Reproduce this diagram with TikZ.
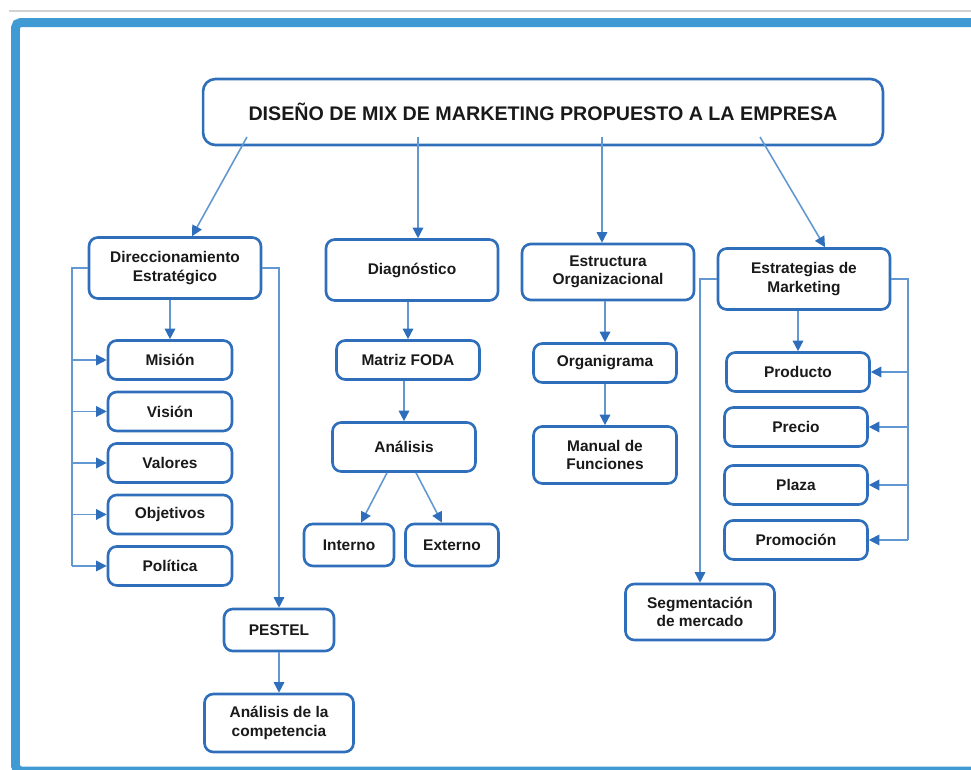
\documentclass[tikz,border=0pt]{standalone}
\usepackage{fontspec}
\setmainfont{Liberation Sans}
\usetikzlibrary{arrows.meta,positioning,calc}
\definecolor{boxblue}{RGB}{47,110,186}
\definecolor{lineblue}{RGB}{98,152,210}
\definecolor{frameblue}{RGB}{64,154,212}

\begin{document}
\begin{tikzpicture}[x=0.02cm, y=-0.02cm, node distance=1cm, font=\bfseries\fontsize{8.8}{10.5}\selectfont]
\tikzstyle{block} = [rectangle, draw=boxblue, line width=1.5pt, text=black!90, align=center, rounded corners=5pt, inner sep=2pt]
\tikzstyle{headbox} = [block, minimum width=34.4mm, minimum height=12.2mm]
\tikzstyle{leaf} = [block, minimum width=24.8mm, minimum height=7.8mm]
\tikzstyle{subbox} = [block, minimum width=28.6mm, minimum height=7.8mm]
\tikzstyle{line} = [draw=lineblue, line width=0.9pt, -{Triangle[length=6pt, width=6pt, color=boxblue]}]
\tikzstyle{wire} = [draw=lineblue, line width=0.9pt]

\useasboundingbox (0,0) rectangle (971,769);
\begin{scope}
\clip (0,0) rectangle (971,769);
\draw [gray!35, line width=0.6pt] (9,11) -- (971,11);
\draw [frameblue, line width=1.8mm, rounded corners=3pt] (15.5,22.5) rectangle (990,771);
\end{scope}

\node [block, minimum width=136mm, minimum height=13.2mm, rounded corners=7pt, font=\bfseries\fontsize{11.2}{13}\selectfont] (title) at (543,112) {DISEÑO DE MIX DE MARKETING PROPUESTO A LA EMPRESA};

\node [headbox] (dir) at (175,268) {Direccionamiento\\Estratégico};
\node [headbox] (diag) at (412,270) {Diagnóstico};
\node [headbox, minimum height=11.2mm] (estr) at (608,272) {Estructura\\Organizacional};
\node [headbox] (estrat) at (804,279) {Estrategias de\\Marketing};

% direccionamiento
\node [leaf, node distance=18.4mm, below of=dir, xshift=-1mm] (mision) {Misión};
\node [leaf, node distance=10.3mm, below of=mision] (vision) {Visión};
\node [leaf, node distance=10.3mm, below of=vision] (valores) {Valores};
\node [leaf, node distance=10.3mm, below of=valores] (objetivos) {Objetivos};
\node [leaf, node distance=10.3mm, below of=objetivos] (politica) {Política};
\node [block, minimum width=22mm, minimum height=8.4mm] (pestel) at (279,630) {PESTEL};
\node [block, minimum width=29.8mm, minimum height=11.6mm, node distance=18.6mm, below of=pestel] (comp) {Análisis de la\\competencia};

% diagnostico
\node [subbox, node distance=18mm, below of=diag, xshift=-0.8mm] (foda) {Matriz FODA};
\node [subbox, minimum height=9.8mm, node distance=17.4mm, below of=foda, xshift=-0.8mm] (anal) {Análisis};
\node [block, minimum width=18mm, minimum height=8.4mm, node distance=19.6mm, below of=anal, xshift=-11mm] (interno) {Interno};
\node [block, minimum width=18.6mm, minimum height=8.4mm, node distance=20.6mm, right of=interno] (externo) {Externo};

% estructura
\node [subbox, node distance=18.2mm, below of=estr, xshift=-0.6mm] (organ) {Organigrama};
\node [subbox, minimum height=11.4mm, node distance=18.4mm, below of=organ] (manual) {Manual de\\Funciones};

% estrategias
\node [subbox, node distance=18.6mm, below of=estrat, xshift=-1.2mm] (prod) {Producto};
\node [subbox, node distance=11mm, below of=prod, xshift=-0.4mm] (precio) {Precio};
\node [subbox, node distance=11.6mm, below of=precio] (plaza) {Plaza};
\node [subbox, node distance=11mm, below of=plaza] (promo) {Promoción};
\node [block, minimum width=29.8mm, minimum height=11.2mm] (segm) at (700,612) {Segmentación\\de mercado};

% title arrows
\coordinate (t1) at (247,137);
\coordinate (t2) at (418,137);
\coordinate (t3) at (602,137);
\coordinate (t4) at (760,137);
\path [line] (t1) -- ([xshift=3.4mm]dir.north);
\path [line] (t2) -- (t2 |- diag.north);
\path [line] (t3) -- (t3 |- estr.north);
\path [line] (t4) -- ([xshift=4.2mm]estrat.north);

% left branch
\coordinate (lx) at (72,0);
\path [wire] (dir.west) -- (dir.west -| lx) -- (lx |- politica.west);
\foreach \n in {mision,vision,valores,objetivos,politica}
  \path [line] (lx |- \n.west) -- (\n.west);
\path [line] (dir.south -| mision.north) -- (mision.north);
\path [line] (dir.east) -| (pestel.north);
\path [line] (pestel) -- (comp);

\path [line] (diag.south -| foda.north) -- (foda.north);
\path [line] (foda.south -| anal.north) -- (anal.north);
\path [line] ([xshift=-3.4mm]anal.south) -- ([xshift=2.4mm]interno.north);
\path [line] ([xshift=2.4mm]anal.south) -- ([xshift=-2mm]externo.north);

\path [line] (estr.south -| organ.north) -- (organ.north);
\path [line] (organ) -- (manual);

% right branch
\path [line] (estrat.south -| prod.north) -- (prod.north);
\coordinate (rx) at (908,0);
\path [wire] (estrat.east) -- (estrat.east -| rx) -- (rx |- promo.east);
\foreach \n in {prod,precio,plaza,promo}
  \path [line] (rx |- \n.east) -- (\n.east);
\path [line] (estrat.west) -| (segm.north);

\end{tikzpicture}
\end{document}
